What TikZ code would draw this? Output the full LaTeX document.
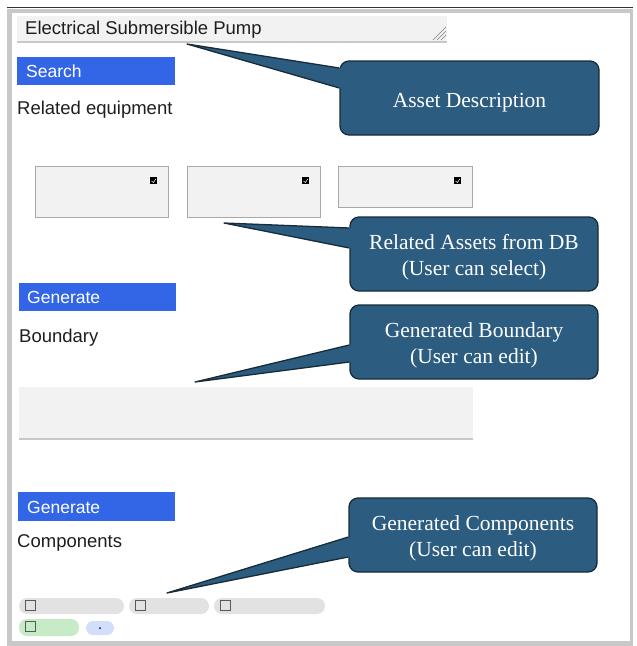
\documentclass[tikz,border=0pt]{standalone}
\usepackage{fontspec}
\setmainfont{Liberation Serif}
\newfontfamily\uifont{Liberation Sans}
\usetikzlibrary{calc}
\definecolor{cfill}{HTML}{2C5C7F}
\definecolor{cedge}{HTML}{182B38}
\definecolor{btnblue}{HTML}{3366E6}
\definecolor{fieldgray}{HTML}{F2F2F2}
\definecolor{framegray}{HTML}{C8C8C8}
\definecolor{boxedge}{HTML}{A8A8A8}
\definecolor{chipgray}{HTML}{E2E2E2}
\definecolor{chipgreen}{HTML}{C6EBC6}
\definecolor{chipblue}{HTML}{D3DEF9}
\definecolor{textdark}{HTML}{1E1E1E}
\begin{document}
\begin{tikzpicture}[x=1pt,y=-1pt,
  box/.style={anchor=north west, inner sep=0pt, outer sep=0pt},
  field/.style={box, fill=fieldgray},
  btn/.style={box, fill=btnblue, minimum width=158pt, minimum height=28pt},
  relbox/.style={box, fill=fieldgray, draw=boxedge, line width=0.8pt},
  uitext/.style={anchor=west, inner sep=0pt, font=\uifont\fontsize{18.5}{22}\selectfont, text=textdark},
  btntext/.style={uitext, text=white, font=\uifont\fontsize{17.5}{21}\selectfont},
  callout/.style={fill=cfill, draw=cedge, line width=1.3pt, rounded corners=9pt,
    minimum width=248pt, minimum height=74pt, inner sep=0pt},
  callouttext/.style={inner sep=0pt, align=center, text=white, font=\fontsize{21.5}{26}\selectfont},
  tailfill/.style={fill=cfill},
  tailedge/.style={draw=cedge, line width=1.3pt, line join=round},
  chip/.style={box, fill=chipgray, rounded corners=8pt, minimum height=16pt},
  cbox/.style={box, draw=gray!70!black, line width=0.9pt, minimum width=10pt, minimum height=10pt},
  checkicon/.style={box, fill=black, minimum width=7pt, minimum height=7pt}
]
\useasboundingbox (0,0) rectangle (637,646);

% frame
\fill[framegray] (7,9) rectangle (12,646);
\fill[framegray] (7,9) rectangle (632,13);
\fill[framegray] (7,641) rectangle (633,646);
\fill[framegray] (630,9) rectangle (633,646);
\draw[black!80, line width=1pt] (7,7) -- (633,7);

% description field
\node[field, minimum width=430pt, minimum height=26pt] (desc) at (17,16) {};
\draw[framegray, line width=1.5pt] (desc.south west) -- (desc.south east);
\node[uitext] (desctext) at (25,29.5) {Electrical Submersible Pump};
\draw[gray, line width=0.6pt] (433,40) -- (446,27) (437,40) -- (446,31) (441,40) -- (446,35);

% search
\node[btn] (search) at (17,57) {};
\node[btntext] (searchtext) at (26,71.5) {Search};
\node[uitext] (related) at (17,109.5) {Related equipment};

% related boxes
\node[relbox, minimum width=133pt, minimum height=51pt] (r1) at (35,166) {};
\node[relbox, minimum width=133pt, minimum height=51pt] (r2) at (187,166) {};
\node[relbox, minimum width=134pt, minimum height=41pt] (r3) at (338,166) {};
\foreach \n/\x in {k1/150,k2/302,k3/454}{
  \node[checkicon] (\n) at (\x,177) {};
  \draw[white, line width=0.5pt] ($(\n.west)+(1.5,0.5)$) -- ($(\n.south)+(0,-1.5)$) -- ($(\n.north east)+(-1.2,1.8)$);
}

% generate boundary
\node[btn, minimum width=157pt] (gen1) at (19,283) {};
\node[btntext] (gen1text) at (27,297.5) {Generate};
\node[uitext] (boundary) at (19,338) {Boundary};
\node[field, minimum width=454pt, minimum height=52pt] (bfield) at (19,387) {};
\draw[framegray, line width=1.2pt] (bfield.south west) -- (bfield.south east);

% generate components
\node[btn, minimum width=157pt, minimum height=29pt] (gen2) at (18,492) {};
\node[btntext] (gen2text) at (27,507) {Generate};
\node[uitext] (components) at (17,543) {Components};

% chips
\node[chip, minimum width=105pt] (ch1) at (19,598) {};
\node[chip, minimum width=80pt] (ch2) at (129,598) {};
\node[chip, minimum width=111pt] (ch3) at (214,598) {};
\node[chip, fill=chipgreen, minimum width=60pt, minimum height=17pt] (ch4) at (19,619) {};
\node[chip, fill=chipblue, minimum width=28pt, minimum height=14pt, rounded corners=7pt] (ch5) at (86,621) {};
\node[cbox] (cb1) at (25,600.5) {};
\node[cbox] (cb2) at (135,600.5) {};
\node[cbox] (cb3) at (220,600.5) {};
\node[cbox] (cb4) at (25,621.5) {};
\fill[blue!60!black] (ch5.center) circle (1pt);

% callouts
\node[callout, minimum width=259pt] (c1) at (469.5,98) {};
\node[callout] (c2) at (474,254) {};
\node[callout] (c3) at (474,342) {};
\node[callout] (c4) at (473,535) {};

\coordinate (tip1) at (187,44);
\coordinate (tip2) at (224,223);
\coordinate (tip3) at (195,382);
\coordinate (tip4) at (167,593);

\foreach \c/\t/\a/\b in {c1/tip1/-30/-10, c2/tip2/-26/-6, c3/tip3/3/20, c4/tip4/2/22}{
  \fill[tailfill] (\t) -- ($(\c.west)+(0,\a)$) -- ($(\c.west)+(3,\a)$) -- ($(\c.west)+(3,\b)$) -- ($(\c.west)+(0,\b)$) -- cycle;
  \draw[tailedge] ($(\c.west)+(0,\a)$) -- (\t) -- ($(\c.west)+(0,\b)$);
}

\node[callouttext] (c1t) at ($(c1.center)+(0,4.5)$) {Asset Description};
\node[callouttext] (c2t) at ($(c2.center)+(0,3.5)$) {Related Assets from DB\\(User can select)};
\node[callouttext] (c3t) at ($(c3.center)+(0,3.5)$) {Generated Boundary\\(User can edit)};
\node[callouttext] (c4t) at ($(c4.center)+(0,3.5)$) {Generated Components\\(User can edit)};
\end{tikzpicture}
\end{document}
